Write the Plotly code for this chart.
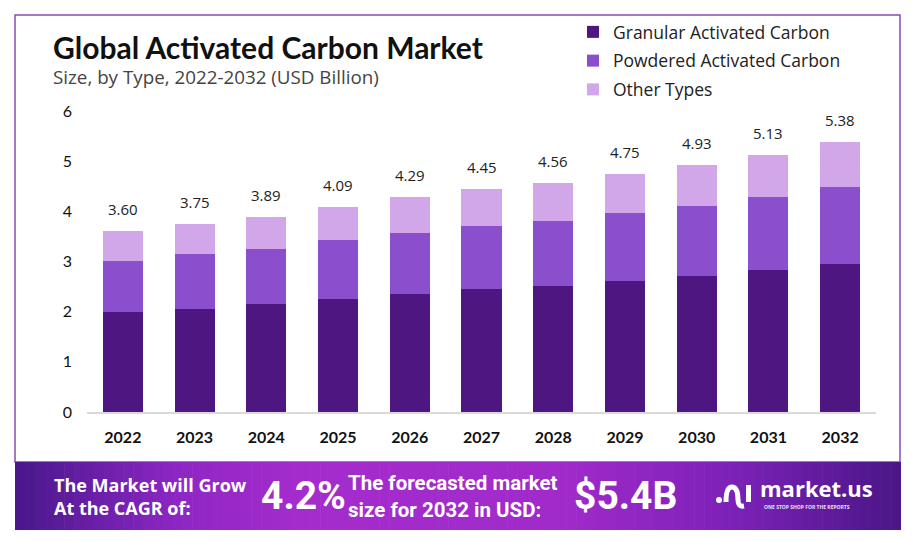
import plotly.graph_objects as go

years = ["2022", "2023", "2024", "2025", "2026", "2027", "2028", "2029", "2030", "2031", "2032"]
granular = [1.99, 2.06, 2.15, 2.25, 2.36, 2.45, 2.51, 2.61, 2.71, 2.83, 2.96]
powdered = [1.02, 1.09, 1.09, 1.17, 1.21, 1.26, 1.30, 1.36, 1.40, 1.46, 1.53]
other = [0.59, 0.60, 0.65, 0.67, 0.72, 0.74, 0.75, 0.78, 0.82, 0.84, 0.89]
totals = [3.60, 3.75, 3.89, 4.09, 4.29, 4.45, 4.56, 4.75, 4.93, 5.13, 5.38]
series_names = ["Granular Activated Carbon", "Powdered Activated Carbon", "Other Types"]
y_ticks = [0, 1, 2, 3, 4, 5, 6]

W, H = 916, 541
ML, MR, MT, MB = 87, 40, 111, 129
PW = W - ML - MR
PH = H - MT - MB


def px(x):
    return (x - ML) / PW


def py(y):
    return (H - MB - y) / PH


colors = ["#4e1681", "#8b4fcd", "#d1a7ea"]

fig = go.Figure()
for name, vals, c in zip(series_names, [granular, powdered, other], colors):
    fig.add_trace(go.Bar(x=years, y=vals, name=name, legendgroup=name,
                         marker=dict(color=c, line=dict(width=0)), hoverinfo="y+name"))

annotations = []
for i, t in enumerate(totals):
    annotations.append(dict(x=i, y=t, xref="x", yref="y", text=f"{t:.2f}", showarrow=False,
                            yanchor="bottom", yshift=10,
                            font=dict(family="Open Sans", size=15, color="#222222")))

# Title and subtitle
annotations.append(dict(x=px(51), y=py(47), xref="paper", yref="paper", xanchor="left", yanchor="middle",
                        text="<b>Global Activated Carbon Market</b>", showarrow=False,
                        font=dict(family="Lato", size=30, color="#111111")))
annotations.append(dict(x=px(51), y=py(77), xref="paper", yref="paper", xanchor="left", yanchor="middle",
                        text="Size, by Type, 2022-2032 (USD Billion)", showarrow=False,
                        font=dict(family="Open Sans", size=18.8, color="#444444")))

# Banner texts
white = "#ffffff"
annotations.append(dict(x=px(52), y=py(496), xref="paper", yref="paper", xanchor="left", yanchor="middle",
                        text="<b>The Market will Grow<br>At the CAGR of:</b>", showarrow=False, align="left",
                        font=dict(family="Open Sans", size=18, color=white)))
annotations.append(dict(x=px(259), y=py(496), xref="paper", yref="paper", xanchor="left", yanchor="middle",
                        text="<b>4.2%</b>", showarrow=False,
                        font=dict(family="Roboto", size=39, color=white)))
annotations.append(dict(x=px(346), y=py(496), xref="paper", yref="paper", xanchor="left", yanchor="middle",
                        text="<b>The forecasted market<br>size for 2032 in USD:</b>", showarrow=False, align="left",
                        font=dict(family="Roboto", size=20.5, color=white)))
annotations.append(dict(x=px(572), y=py(496), xref="paper", yref="paper", xanchor="left", yanchor="middle",
                        text="<b>$5.4B</b>", showarrow=False,
                        font=dict(family="Roboto", size=39, color=white)))
annotations.append(dict(x=px(758), y=py(488), xref="paper", yref="paper", xanchor="left", yanchor="middle",
                        text="<b>market.us</b>", showarrow=False,
                        font=dict(family="Open Sans", size=22, color=white)))
annotations.append(dict(x=px(762), y=py(507), xref="paper", yref="paper", xanchor="left", yanchor="middle",
                        text="<b>ONE STOP SHOP FOR THE REPORTS</b>", showarrow=False,
                        font=dict(family="Open Sans", size=5, color="#f0e0ff")))

shapes = []
# Banner gradient made of thin strips
stops = [(0.0, (72, 24, 138)), (0.18, (140, 38, 196)), (0.32, (165, 44, 204)),
         (0.62, (160, 42, 202)), (0.8, (126, 34, 186)), (1.0, (74, 22, 134))]


def grad(t):
    for (t0, c0), (t1, c1) in zip(stops[:-1], stops[1:]):
        if t0 <= t <= t1:
            f = (t - t0) / (t1 - t0)
            return "rgb(%d,%d,%d)" % tuple(round(a + (b - a) * f) for a, b in zip(c0, c1))
    return "rgb(%d,%d,%d)" % stops[-1][1]


bx0, bx1, by0, by1 = 15, 901, 462, 530
n = 90
step = (bx1 - bx0) / n
for i in range(n):
    xa = bx0 + i * step
    xb = xa + step + 0.6
    shapes.append(dict(type="rect", xref="paper", yref="paper", x0=px(xa), x1=px(min(xb, bx1)),
                       y0=py(by1), y1=py(by0), fillcolor=grad((i + 0.5) / n), line=dict(width=0),
                       layer="above"))

# Outer border
shapes.append(dict(type="rect", xref="paper", yref="paper", x0=px(15), x1=px(900), y0=py(462), y1=py(15),
                   line=dict(color="#8a4bb0", width=1.5), fillcolor="rgba(0,0,0,0)", layer="below"))

# Logo icon
shapes.append(dict(type="circle", xref="paper", yref="paper", x0=px(716), x1=px(722), y0=py(503), y1=py(497),
                   fillcolor=white, line=dict(width=0), layer="above"))


def P(x, y):
    return f"{px(x):.5f},{py(y):.5f}"


arch = f"M {P(726, 502)} Q {P(726, 487)} {P(732, 487)} Q {P(738, 487)} {P(738, 500)} Q {P(738, 507)} {P(744, 506)}"
shapes.append(dict(type="path", xref="paper", yref="paper", path=arch, line=dict(color=white, width=5),
                   layer="above"))
shapes.append(dict(type="rect", xref="paper", yref="paper", x0=px(746), x1=px(751), y0=py(502), y1=py(485),
                   fillcolor=white, line=dict(width=0), layer="above"))

fig.update_layout(
    width=W, height=H,
    margin=dict(l=ML, r=MR, t=MT, b=MB, pad=0),
    barmode="stack", bargap=0.44,
    paper_bgcolor="white", plot_bgcolor="white",
    showlegend=True,
    legend=dict(x=px(573), y=py(14), xref="paper", yref="paper", xanchor="left", yanchor="top",
                orientation="v", traceorder="grouped", tracegroupgap=3, bgcolor="rgba(0,0,0,0)",
                font=dict(family="Open Sans", size=17.5, color="#222222"), itemclick=False),
    xaxis=dict(type="category", range=[-0.5, 10.5], showgrid=False, showline=True, linecolor="#d9d9d9",
               linewidth=1.5, ticks="", tickfont=dict(family="Lato", size=16, color="#111111"),
               ticklabelstandoff=10, fixedrange=True),
    yaxis=dict(range=[0, 6], tickvals=y_ticks, showgrid=False, showline=False, zeroline=False,
               ticks="", tickfont=dict(family="Lato", size=16, color="#111111"), ticklabelstandoff=14,
               fixedrange=True),
    annotations=annotations,
    shapes=shapes,
)
fig.update_xaxes(tickprefix="<b>", ticksuffix="</b>")
fig.update_yaxes(tickprefix="<b>", ticksuffix="</b>")

fig.write_html("out.html", config={"displayModeBar": False},
               post_script="document.body.style.margin='0';document.body.style.overflow='hidden';")
